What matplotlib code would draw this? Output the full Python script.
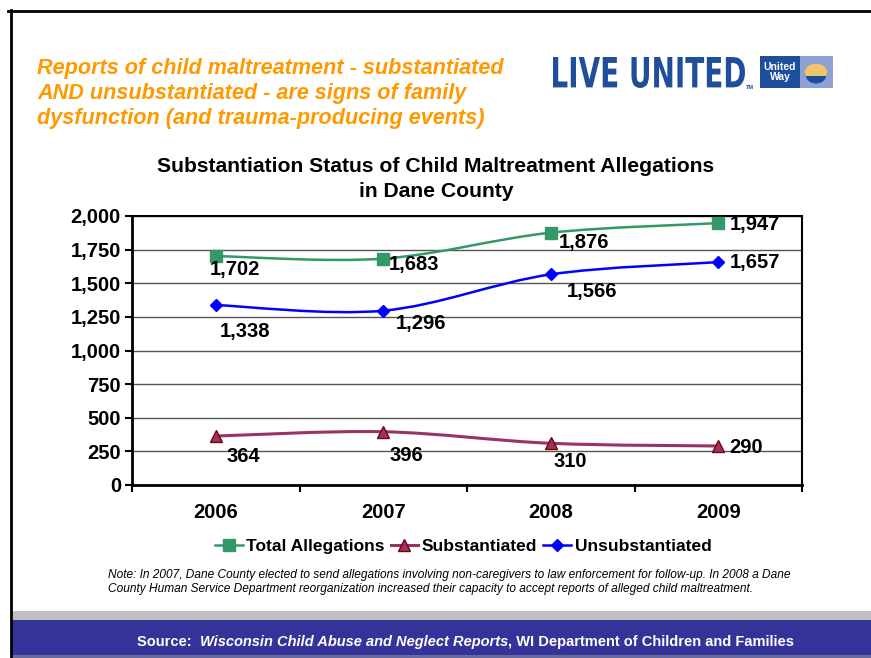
import matplotlib.pyplot as plt
from matplotlib.path import Path
from matplotlib.patches import PathPatch, Rectangle, Circle, Wedge
from matplotlib.lines import Line2D
from matplotlib.textpath import TextPath
from matplotlib.font_manager import FontProperties
from matplotlib.transforms import Affine2D

years = ["2006", "2007", "2008", "2009"]
total = [1702, 1683, 1876, 1947]
substantiated = [364, 396, 310, 290]
unsubstantiated = [1338, 1296, 1566, 1657]
y_ticks = [0, 250, 500, 750, 1000, 1250, 1500, 1750, 2000]

# label offsets in points (dx, dy, ha)
total_off = [(14, -10, "center"), (22, -4, "center"), (24, -7, "center"), (8, -1, "left")]
unsub_off = [(21, -19, "center"), (27, -9, "center"), (30, -12, "center"), (8, 0, "left")]
sub_off = [(20, -15, "center"), (17, -17, "center"), (14, -13, "center"), (8, -1, "left")]

GREEN = "#339966"
MAROON = "#993366"
BLUE = "#0000FF"
LOGO = "#1F4E9A"


def smooth_path(xs, ys):
    # Excel-style smoothed line: cubic bezier segments through the points
    pts = list(zip(xs, ys))
    verts = [pts[0]]
    codes = [Path.MOVETO]
    n = len(pts)
    for i in range(n - 1):
        p0 = pts[i - 1] if i > 0 else pts[i]
        p1 = pts[i]
        p2 = pts[i + 1]
        p3 = pts[i + 2] if i + 2 < n else pts[i + 1]
        c1 = (p1[0] + (p2[0] - p0[0]) / 6, p1[1] + (p2[1] - p0[1]) / 6)
        c2 = (p2[0] - (p3[0] - p1[0]) / 6, p2[1] - (p3[1] - p1[1]) / 6)
        verts += [c1, c2, p2]
        codes += [Path.CURVE4] * 3
    return Path(verts, codes)


fig = plt.figure(figsize=(8.71, 6.58), dpi=100)
plt.rcParams['font.family'] = ['Liberation Sans', 'DejaVu Sans']

W, H = 871, 658


def fx(px):
    return px / W


def fy(py):
    return 1 - py / H


# slide frame
fig.add_artist(Line2D([fx(8), fx(871)], [fy(11), fy(11)], color="black", lw=2))
fig.add_artist(Line2D([fx(11), fx(11)], [fy(10), fy(658)], color="black", lw=2))

# bottom bands
fig.add_artist(Rectangle((fx(12), fy(620)), fx(871 - 12), 9 / H, color="#C0C0C0", lw=0))
fig.add_artist(Rectangle((fx(12), fy(655)), fx(871 - 12), 35 / H, color="#333399", lw=0))
fig.add_artist(Rectangle((fx(12), 0), fx(871 - 12), 3 / H, color="#6A6A9E", lw=0))

# headline
fig.text(fx(37), fy(58), "Reports of child maltreatment - substantiated\nAND unsubstantiated - are signs of family\n"
         "dysfunction (and trauma-producing events)", color="#FF9900", fontsize=15.6,
         fontweight="bold", style="italic", va="top", ha="left", linespacing=1.25)

# logo: squeeze bold text into the logo box (pixel coordinates)
tp = TextPath((0, 0), "LIVE UNITED", size=100, prop=FontProperties(family="DejaVu Sans", weight="bold"))
ext = tp.get_extents()
tr = Affine2D().translate(-ext.x0, -ext.y0).scale(192 / ext.width, 31 / ext.height).translate(553, H - 88)
fig.add_artist(PathPatch(tp, transform=tr, color=LOGO, lw=0))
fig.text(fx(746), fy(89), "TM", color=LOGO, fontsize=4, fontweight="bold", ha="left", va="baseline")
fig.add_artist(Rectangle((fx(760), fy(88)), 40 / W, 32 / H, color=LOGO, lw=0))
fig.add_artist(Rectangle((fx(800), fy(88)), 33 / W, 32 / H, color="#8EA3D3", lw=0))
fig.text(fx(780), fy(72), "United\nWay", color="white", fontsize=7.5, fontweight="bold",
         ha="center", va="center", linespacing=0.95)
fig.add_artist(Circle((fx(816), fy(72)), 11 / W, color="#F2C36B", lw=0))
fig.add_artist(Wedge((fx(816), fy(76)), 10 / W, 180, 360, color=LOGO, lw=0))

# chart title
fig.text(fx(436), fy(179), "Substantiation Status of Child Maltreatment Allegations\nin Dane County",
         fontsize=15.2, fontweight="bold", ha="center", va="center", linespacing=1.42)

ax = fig.add_axes([fx(132), fy(485), fx(802 - 132), (485 - 216) / H])
xs = list(range(len(years)))

series = [
    (total, GREEN, "s", GREEN, "Total Allegations", total_off, 1.8),
    (substantiated, MAROON, "^", "#800000", "Substantiated", sub_off, 2.2),
    (unsubstantiated, BLUE, "D", BLUE, "Unsubstantiated", unsub_off, 1.8),
]
handles = []
for vals, col, mk, edge, name, offs, lw in series:
    ax.add_patch(PathPatch(smooth_path(xs, vals), fill=False, edgecolor=col, lw=lw, zorder=3))
    ax.plot(xs, vals, ls="none", marker=mk, color=col, markeredgecolor=edge,
            markersize=8 if mk != "D" else 6.5, zorder=4)
    for x, v, (dx, dy, ha) in zip(xs, vals, offs):
        ax.annotate(f"{v:,}", (x, v), xytext=(dx, dy), textcoords="offset points",
                    ha=ha, va="center", fontsize=14.5, fontweight="bold", zorder=5)
    handles.append(Line2D([], [], color=col, lw=lw, marker=mk, markeredgecolor=edge,
                          markersize=8 if mk != "D" else 6.5))

ax.set_xlim(-0.5, 3.5)
ax.set_ylim(0, 2000)
ax.set_yticks(y_ticks)
ax.set_yticklabels([f"{t:,}" for t in y_ticks], fontsize=14.5, fontweight="bold")
ax.set_xticks([-0.5, 0.5, 1.5, 2.5, 3.5])
ax.set_xticklabels([])
ax.set_xticks(xs, minor=True)
ax.set_xticklabels(years, minor=True, fontsize=14.5, fontweight="bold")
ax.tick_params(axis="x", which="minor", length=0, pad=13)
ax.tick_params(axis="x", which="major", length=5, width=1.5, direction="out")
ax.tick_params(axis="y", length=5, width=1.5, direction="out", pad=3)
ax.grid(axis="y", color="#555555", lw=1)
ax.set_axisbelow(True)
for side in ["left", "bottom"]:
    ax.spines[side].set_linewidth(2)
for side in ["top", "right"]:
    ax.spines[side].set_linewidth(1.5)

fig.legend(handles, [s[4] for s in series], loc="center", bbox_to_anchor=(fx(463), fy(546)),
           ncol=3, frameon=False, prop={"weight": "bold", "size": 12.5}, handlelength=1.6,
           columnspacing=0.35, handletextpad=0.2)

fig.text(fx(108), fy(582), "Note: In 2007, Dane County elected to send allegations involving non-caregivers to law "
         "enforcement for follow-up. In 2008 a Dane\nCounty Human Service Department reorganization increased their "
         "capacity to accept reports of alleged child maltreatment.",
         fontsize=8.6, style="italic", ha="left", va="center", linespacing=1.2)

src = fig.text(fx(137), fy(642), "Source:  ", color="white", fontsize=10.5, fontweight="bold",
               ha="left", va="center")
fig.canvas.draw()
bb = src.get_window_extent()
t2 = fig.text(bb.x1 / W, fy(642), "Wisconsin Child Abuse and Neglect Reports", color="white", fontsize=10.5,
              fontweight="bold", style="italic", ha="left", va="center")
bb2 = t2.get_window_extent()
fig.text(bb2.x1 / W, fy(642), ", WI Department of Children and Families", color="white", fontsize=10.5,
         fontweight="bold", ha="left", va="center")

fig.savefig("out.png", dpi=100)
